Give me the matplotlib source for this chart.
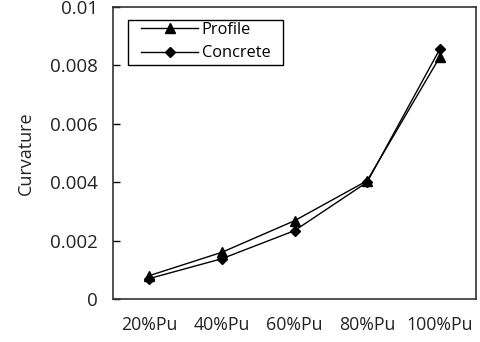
import matplotlib
matplotlib.use("Agg")
import matplotlib.pyplot as plt
from matplotlib.patches import Rectangle

categories = ["20%Pu", "40%Pu", "60%Pu", "80%Pu", "100%Pu"]
profile = [0.00080, 0.00160, 0.00268, 0.00405, 0.00828]
concrete = [0.00070, 0.00138, 0.00234, 0.00400, 0.00855]
yticks = [0, 0.002, 0.004, 0.006, 0.008, 0.01]
yticklabels = ["0", "0.002", "0.004", "0.006", "0.008", "0.01"]

plt.rcParams['font.family'] = ['Open Sans', 'DejaVu Sans']

W, H = 480, 342
fig = plt.figure(figsize=(4.8, 3.42), dpi=100)
ax = fig.add_axes([113/W, 1 - 299/H, 363/W, 292/H])

x = list(range(len(categories)))
ax.plot(x, profile, color='black', lw=1.0, marker='^', ms=7, label='Profile')
ax.plot(x, concrete, color='black', lw=1.0, marker='D', ms=5.5, label='Concrete')

ax.set_xlim(-0.5, len(categories) - 0.5)
ax.set_ylim(0, 0.01)
ax.set_yticks(yticks)
ax.set_yticklabels(yticklabels, fontsize=13.5, color='#222222')
ax.set_xticks(x)
ax.set_xticklabels(categories, fontsize=12.8, color='#222222')
ax.tick_params(axis='y', direction='in', length=5, width=1, pad=11)
ax.tick_params(axis='x', length=0, pad=12)
for s in ax.spines.values():
    s.set_color('#333333')
    s.set_linewidth(1.2)
ax.set_ylabel('Curvature', fontsize=13, color='#222222', labelpad=11)

# legend entries (frame drawn separately to match the reference box)
leg = ax.legend(loc='upper left', bbox_to_anchor=(137/W, 1 - 18/H),
                bbox_transform=fig.transFigure, fontsize=11.8,
                frameon=False, handlelength=3.5,
                borderpad=0.25, labelspacing=0.45, handletextpad=0.2, borderaxespad=0)
fig.add_artist(Rectangle((128/W, 1 - 65/H), 155/W, 45/H, transform=fig.transFigure,
                         fill=False, edgecolor='black', lw=1.0))

fig.savefig('out.png', dpi=100)
